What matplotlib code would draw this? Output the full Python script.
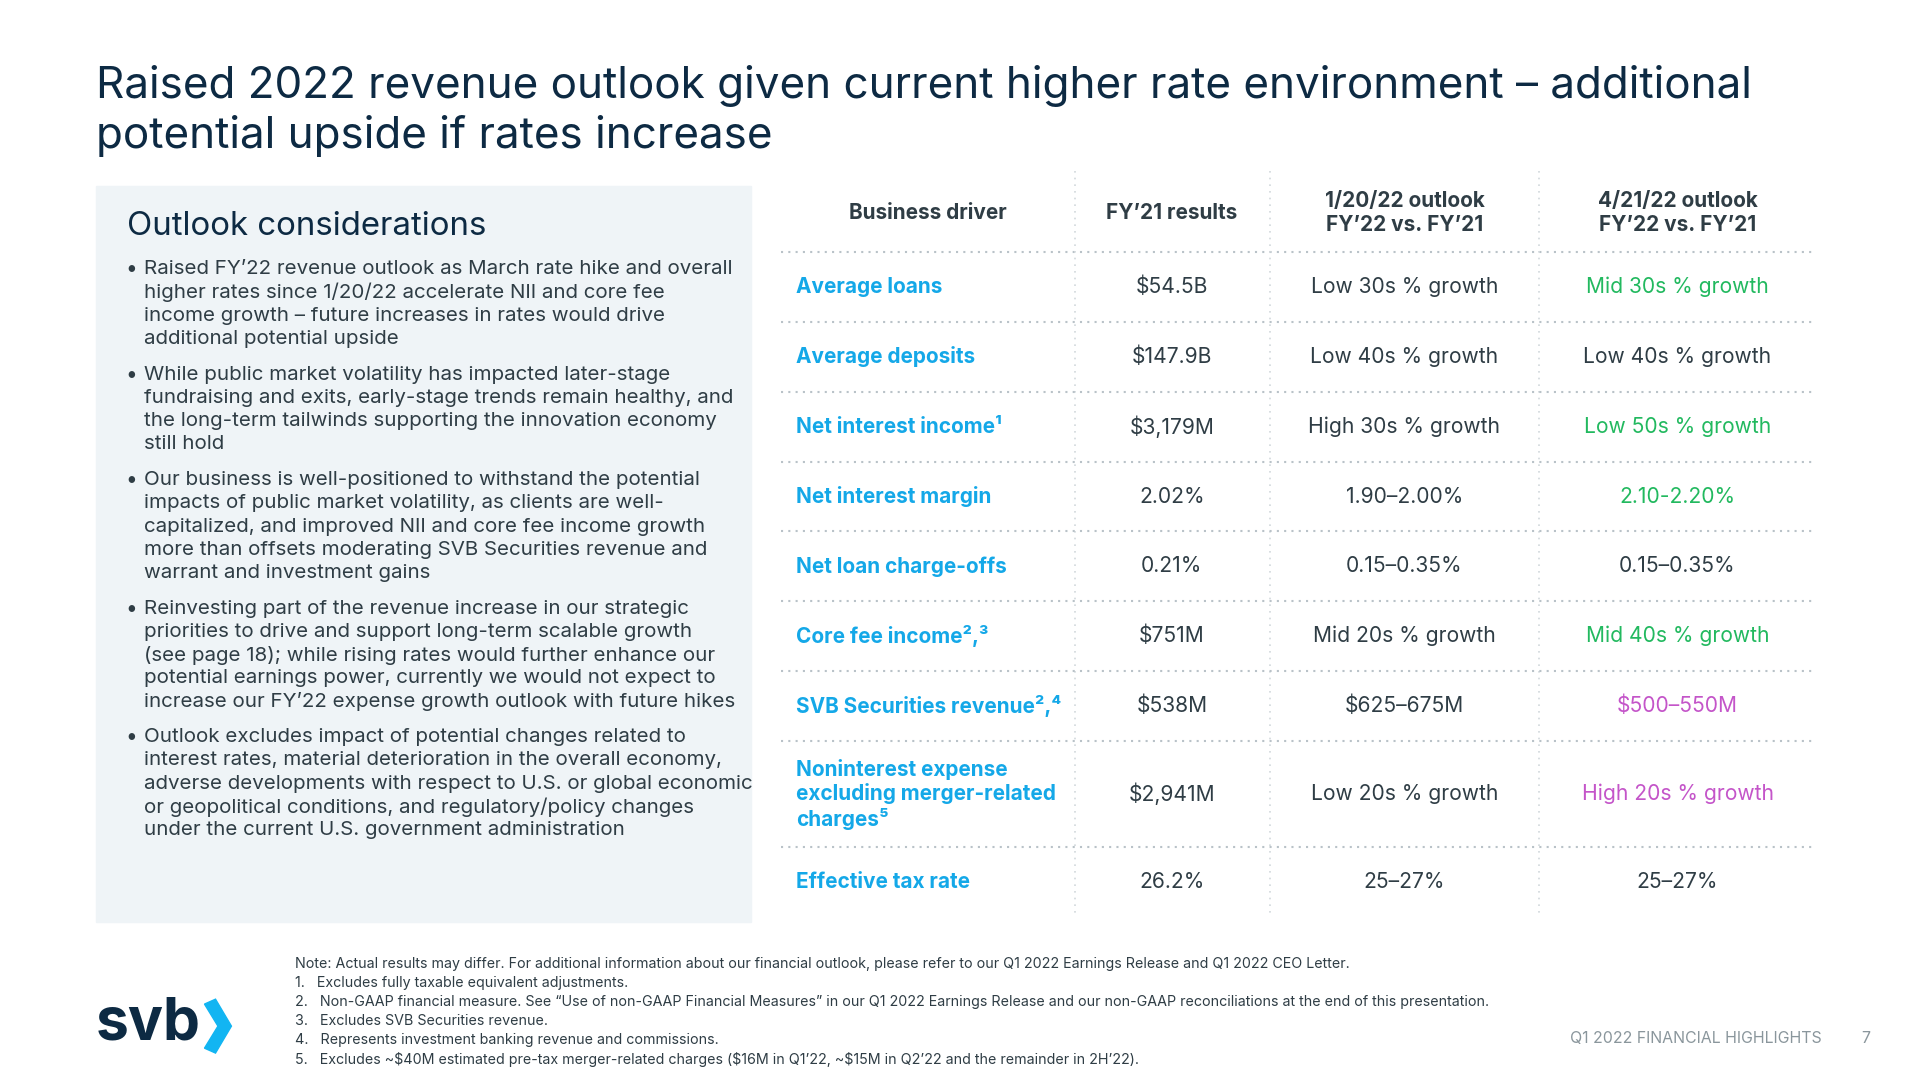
import matplotlib
matplotlib.use("Agg")
import matplotlib.pyplot as plt
from matplotlib.patches import Rectangle, Polygon

plt.rcParams["font.family"] = ["Inter", "DejaVu Sans"]

NAVY = "#0d2a43"
DARK = "#2f3d45"
BLUE = "#14a8e8"
GREEN = "#22b95f"
PINK = "#c455c9"
GRID = "#b9c2c8"

title_lines = ["Raised 2022 revenue outlook given current higher rate environment \u2013 additional",
               "potential upside if rates increase"]

bullets = [
    ["Raised FY\u201922 revenue outlook as March rate hike and overall",
     "higher rates since 1/20/22 accelerate NII and core fee",
     "income growth \u2013 future increases in rates would drive",
     "additional potential upside"],
    ["While public market volatility has impacted later-stage",
     "fundraising and exits, early-stage trends remain healthy, and",
     "the long-term tailwinds supporting the innovation economy",
     "still hold"],
    ["Our business is well-positioned to withstand the potential",
     "impacts of public market volatility, as clients are well-",
     "capitalized, and improved NII and core fee income growth",
     "more than offsets moderating SVB Securities revenue and",
     "warrant and investment gains"],
    ["Reinvesting part of the revenue increase in our strategic",
     "priorities to drive and support long-term scalable growth",
     "(see page 18); while rising rates would further enhance our",
     "potential earnings power, currently we would not expect to",
     "increase our FY\u201922 expense growth outlook with future hikes"],
    ["Outlook excludes impact of potential changes related to",
     "interest rates, material deterioration in the overall economy,",
     "adverse developments with respect to U.S. or global economic",
     "or geopolitical conditions, and regulatory/policy changes",
     "under the current U.S. government administration"],
]

headers = ["Business driver", "FY\u201921 results",
           "1/20/22 outlook\nFY\u201922 vs. FY\u201921", "4/21/22 outlook\nFY\u201922 vs. FY\u201921"]
drivers = ["Average loans", "Average deposits", "Net interest income\u00b9", "Net interest margin",
           "Net loan charge-offs", "Core fee income\u00b2,\u00b3", "SVB Securities revenue\u00b2,\u2074",
           "Noninterest expense\nexcluding merger-related\ncharges\u2075", "Effective tax rate"]
fy21 = ["$54.5B", "$147.9B", "$3,179M", "2.02%", "0.21%", "$751M", "$538M", "$2,941M", "26.2%"]
outlook_jan = ["Low 30s % growth", "Low 40s % growth", "High 30s % growth", "1.90\u20132.00%",
               "0.15\u20130.35%", "Mid 20s % growth", "$625\u2013675M", "Low 20s % growth", "25\u201327%"]
outlook_apr = ["Mid 30s % growth", "Low 40s % growth", "Low 50s % growth", "2.10-2.20%",
               "0.15\u20130.35%", "Mid 40s % growth", "$500\u2013550M", "High 20s % growth", "25\u201327%"]
apr_colors = [GREEN, DARK, GREEN, GREEN, DARK, GREEN, PINK, PINK, DARK]
row_heights = [57, 57, 57, 57, 57, 57, 57, 87, 57]

footnotes = [
    "Note: Actual results may differ. For additional information about our financial outlook, please refer to our Q1 2022 Earnings Release and Q1 2022 CEO Letter.",
    "1.   Excludes fully taxable equivalent adjustments.",
    "2.   Non-GAAP financial measure. See \u201cUse of non-GAAP Financial Measures\u201d in our Q1 2022 Earnings Release and our non-GAAP reconciliations at the end of this presentation.",
    "3.   Excludes SVB Securities revenue.",
    "4.   Represents investment banking revenue and commissions.",
    "5.   Excludes ~$40M estimated pre-tax merger-related charges ($16M in Q1\u201922, ~$15M in Q2\u201922 and the remainder in 2H\u201922).",
]

W, H = 1568, 882
fig = plt.figure(figsize=(19.2, 10.8), dpi=100)
ax = fig.add_axes([0, 0, 1, 1])
ax.set_xlim(0, W)
ax.set_ylim(H, 0)
ax.axis("off")
k = 0.88  # displayed px -> pt

# title
for i, line in enumerate(title_lines):
    ax.text(78, 70 + i * 41, line, fontsize=36 * k, color=NAVY, va="center", ha="left")

# left panel
ax.add_patch(Rectangle((78, 152), 535, 601, color="#eff4f7", zorder=0))
ax.text(104, 185, "Outlook considerations", fontsize=27 * k, color=NAVY, va="center")
y = 220
for b in bullets:
    ax.text(102, y, "\u2022", fontsize=17 * k, color=DARK, va="center")
    for line in b:
        ax.text(118, y, line, fontsize=16.8 * k, color=DARK, va="center")
        y += 19
    y += 10

# table
x_left, x_right = 638, 1483
vlines = [878, 1037, 1257]
centers = [758, 957, 1147, 1370]
ax.text(centers[0], 174, headers[0], fontsize=17 * k, color=DARK, weight="bold", ha="center", va="center")
for c, h in zip(centers[1:], headers[1:]):
    ax.text(c, 174, h, fontsize=17 * k, color=DARK, weight="bold", ha="center", va="center",
            linespacing=1.25)
top = 206
ax.plot([x_left, x_right], [top, top], color=GRID, lw=1.5, ls=(0, (1, 2.5)))
for v in vlines:
    ax.plot([v, v], [140, 748], color="#d2d8dc", lw=1.2, ls=(0, (1, 3)))
y0 = top
for i, rh in enumerate(row_heights):
    cy = y0 + rh / 2
    ax.text(650, cy, drivers[i], fontsize=17 * k, color=BLUE, weight="bold", va="center",
            ha="left", linespacing=1.2)
    ax.text(centers[1], cy, fy21[i], fontsize=17.2 * k, color=DARK, ha="center", va="center")
    ax.text(centers[2], cy, outlook_jan[i], fontsize=17.2 * k, color=DARK, ha="center", va="center")
    ax.text(centers[3], cy, outlook_apr[i], fontsize=17.2 * k, color=apr_colors[i],
            ha="center", va="center")
    y0 += rh
    if i < len(row_heights) - 1:
        ax.plot([x_left, x_right], [y0, y0], color=GRID, lw=1.5, ls=(0, (1, 2.5)))

# footnotes
for i, f in enumerate(footnotes):
    ax.text(241, 787 + i * 15.6, f, fontsize=11.7 * k, color=DARK, va="center")

# logo
ax.text(78, 836, "svb", fontsize=48 * k, color=NAVY, weight="bold", va="center", ha="left")
ax.add_patch(Polygon([(167, 820), (176, 816), (189, 838), (176, 860), (167, 856), (178, 838)],
                     closed=True, color="#12b5f2"))

ax.text(1488, 848, "Q1 2022 FINANCIAL HIGHLIGHTS", fontsize=13 * k, color="#8a969c",
        ha="right", va="center")
ax.text(1524, 848, "7", fontsize=13 * k, color="#8a969c", ha="center", va="center")

fig.savefig("out.png", dpi=100)
